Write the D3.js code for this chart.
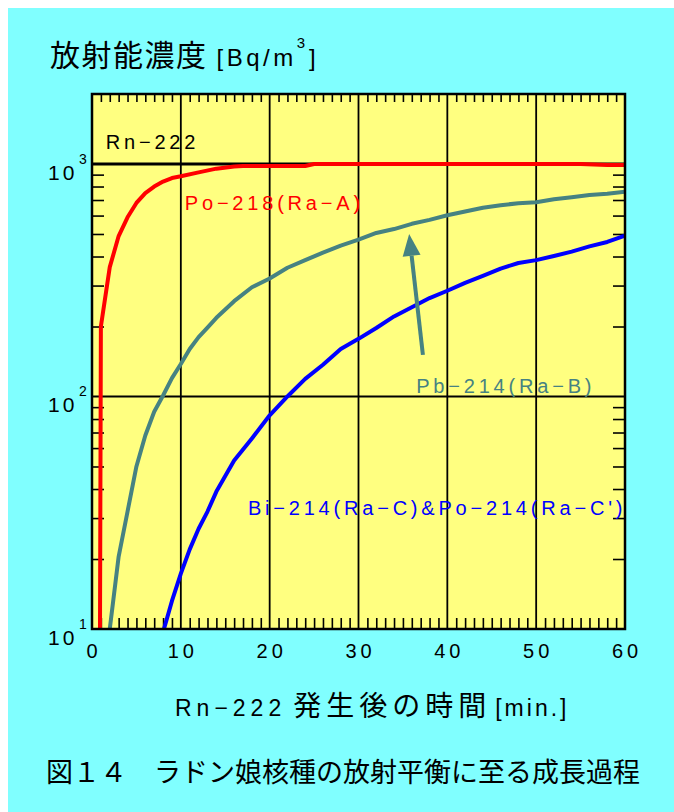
<!DOCTYPE html>
<html>
<head>
<meta charset="utf-8">
<script src="https://cdn.jsdelivr.net/npm/d3@7"></script>
<style>
  html, body { margin: 0; padding: 0; background: #fff; }
  svg { display: block; }
  .lat { font-family: "Liberation Sans", Arial, sans-serif; }
  .jp { font-family: "Noto Sans CJK JP", sans-serif; }
</style>
</head>
<body>
<div id="chart"></div>
<script>
// time after Rn-222 generation [min] and activity [Bq/m3]
const rnT = [0, 60];
const rnV = [1000, 1000];

const poT = [0.9, 1, 2, 3, 4, 5, 6, 7, 8, 9, 10, 12, 14, 16, 17, 20, 24, 25, 30, 40, 50, 55, 58, 60];
const poV = [10, 200, 360, 490, 590, 680, 750, 800, 840, 870, 885, 920, 955, 975, 980, 980, 980, 1000, 1000, 1000, 1000, 1000, 990, 990];

const pbT = [2, 3, 4, 5, 6, 7, 8, 9, 10, 11, 12, 13, 14, 16, 18, 20, 22, 24, 26, 28, 30, 32, 34, 36, 38, 40, 42, 44, 46, 48, 50, 52, 54, 56, 58, 60];
const pbV = [10, 20.5, 32, 50, 68, 86, 101, 120, 138, 160, 180, 198, 218, 257, 295, 322, 358, 386, 416, 446, 473, 505, 525, 553, 575, 602, 625, 648, 665, 678, 684, 705, 720, 735, 745, 760];

const biT = [8.1, 9, 10, 11, 12, 13, 14, 16, 18, 20, 22, 24, 26, 28, 30, 32, 34, 36, 38, 40, 42, 44, 46, 48, 50, 52, 54, 56, 58, 60];
const biV = [10, 13.2, 17.3, 22, 27, 32, 39, 53, 66, 83, 100, 119, 137, 160, 177, 197, 221, 242, 265, 285, 308, 330, 355, 375, 386, 402, 420, 442, 462, 492];

const xTicks = [0, 10, 20, 30, 40, 50, 60];
const yDecades = [10, 100, 1000];
const yExponents = ["1", "2", "3"];

const series = [
  { name: "Rn−222", t: rnT, v: rnV, color: "#000000", width: 3 },
  { name: "Po−218(Ra−A)", t: poT, v: poV, color: "#ff0000", width: 4 },
  { name: "Pb−214(Ra−B)", t: pbT, v: pbV, color: "#468282", width: 4 },
  { name: "Bi−214(Ra−C)&Po−214(Ra−C')", t: biT, v: biV, color: "#0000ff", width: 4 }
];

const W = 674, H = 812;
const plotL = 92, plotR = 625, plotT = 94, plotB = 629;

const svg = d3.select("#chart").append("svg")
  .attr("width", W)
  .attr("height", H);

// cyan panel
svg.append("rect")
  .attr("x", 8).attr("y", 8)
  .attr("width", W - 8).attr("height", H - 8)
  .attr("fill", "#80ffff");

const x = d3.scaleLinear().domain([0, 60]).range([plotL, plotR]);
const y = d3.scaleLog().domain([10, 2000]).range([plotB, plotT]);

// plot background
svg.append("rect")
  .attr("x", plotL).attr("y", plotT)
  .attr("width", plotR - plotL).attr("height", plotB - plotT)
  .attr("fill", "#ffff80");

svg.append("clipPath").attr("id", "plotclip")
  .append("rect")
  .attr("x", plotL).attr("y", plotT)
  .attr("width", plotR - plotL).attr("height", plotB - plotT);

// grid
const grid = svg.append("g").attr("stroke", "#000").attr("stroke-width", 1.8);
grid.selectAll("line.v")
  .data(xTicks.slice(1, -1))
  .join("line")
  .attr("class", "v")
  .attr("x1", d => x(d)).attr("x2", d => x(d))
  .attr("y1", plotT).attr("y2", plotB);
grid.append("line")
  .attr("x1", plotL).attr("x2", plotR)
  .attr("y1", y(100)).attr("y2", y(100));

// minor ticks
const minutes = d3.range(1, 60).filter(d => d % 10 !== 0);
const yMinor = [20, 30, 40, 50, 60, 70, 80, 90, 200, 300, 400, 500, 600, 700, 800, 900];

function styleAxis(g) {
  g.select(".domain").remove();
  g.selectAll(".tick line").attr("stroke", "#000").attr("stroke-width", 1.6);
  g.selectAll(".tick text").remove();
}

svg.append("g")
  .attr("transform", `translate(0,${plotB})`)
  .call(d3.axisBottom(x).tickValues(minutes).tickSize(-11).tickFormat(""))
  .call(styleAxis);

svg.append("g")
  .attr("transform", `translate(0,${plotT})`)
  .call(d3.axisTop(x).tickValues(minutes).tickSize(-8).tickFormat(""))
  .call(styleAxis);

svg.append("g")
  .attr("transform", `translate(${plotL},0)`)
  .call(d3.axisLeft(y).tickValues(yMinor).tickSize(-12).tickFormat(""))
  .call(styleAxis);

svg.append("g")
  .attr("transform", `translate(${plotR},0)`)
  .call(d3.axisRight(y).tickValues(yMinor).tickSize(-12).tickFormat(""))
  .call(styleAxis);

// curves
const line = d3.line()
  .x(d => x(d[0]))
  .y(d => y(d[1]));

const curves = svg.append("g").attr("clip-path", "url(#plotclip)");
series.forEach(s => {
  curves.append("path")
    .datum(s.t.map((t, i) => [t, s.v[i]]))
    .attr("fill", "none")
    .attr("stroke", s.color)
    .attr("stroke-width", s.width)
    .attr("stroke-linejoin", "round")
    .attr("d", line);
});

// frame
svg.append("rect")
  .attr("x", plotL).attr("y", plotT)
  .attr("width", plotR - plotL).attr("height", plotB - plotT)
  .attr("fill", "none")
  .attr("stroke", "#000")
  .attr("stroke-width", 2.5);

// x tick labels
svg.append("g").selectAll("text")
  .data(xTicks)
  .join("text")
  .attr("class", "lat")
  .attr("x", d => x(d) + 2)
  .attr("y", 658)
  .attr("text-anchor", "middle")
  .attr("font-size", 20)
  .attr("letter-spacing", 4)
  .attr("fill", "#000")
  .text(d => d);

// y tick labels 10^n
const yl = svg.append("g").selectAll("g")
  .data(yDecades)
  .join("g")
  .attr("transform", d => `translate(0,${y(d)})`);
yl.append("text")
  .attr("class", "lat")
  .attr("x", 48).attr("y", 16)
  .attr("font-size", 21)
  .attr("letter-spacing", 3)
  .text("10");
yl.append("text")
  .attr("class", "lat")
  .attr("x", 79).attr("y", 0)
  .attr("font-size", 14)
  .text((d, i) => yExponents[i]);

// series labels
const labels = [
  { text: series[0].name, t: 1.55, v: 1160, color: series[0].color },
  { text: series[1].name, t: 10.45, v: 635, color: series[1].color },
  { text: series[2].name, t: 36.5, v: 104, color: series[2].color },
  { text: series[3].name, t: 17.55, v: 31, color: series[3].color }
];
svg.append("g").selectAll("text")
  .data(labels)
  .join("text")
  .attr("class", "lat")
  .attr("x", d => x(d.t))
  .attr("y", d => y(d.v))
  .attr("font-size", 20)
  .attr("letter-spacing", 3.8)
  .attr("fill", d => d.color)
  .text(d => d.text);

// arrow pointing at Pb-214 curve
const arrowFrom = [37.25, 151];
const arrowTo = [35.7, 500];
const ax1 = x(arrowFrom[0]), ay1 = y(arrowFrom[1]);
const ax2 = x(arrowTo[0]), ay2 = y(arrowTo[1]);
const ang = Math.atan2(ay2 - ay1, ax2 - ax1);
const headLen = 22, headW = 9;
const bx = ax2 - headLen * Math.cos(ang), by = ay2 - headLen * Math.sin(ang);
svg.append("line")
  .attr("x1", ax1).attr("y1", ay1)
  .attr("x2", bx).attr("y2", by)
  .attr("stroke", "#468282")
  .attr("stroke-width", 4);
svg.append("path")
  .attr("d", `M${ax2},${ay2}L${bx + headW * Math.sin(ang)},${by - headW * Math.cos(ang)}L${bx - headW * Math.sin(ang)},${by + headW * Math.cos(ang)}Z`)
  .attr("fill", "#468282");

// title
const title = svg.append("text").attr("x", 50).attr("y", 66).attr("fill", "#000");
title.append("tspan").attr("class", "jp").attr("font-size", 30).attr("letter-spacing", 1.5).text("放射能濃度");
title.append("tspan").attr("class", "lat").attr("font-size", 24).attr("letter-spacing", 3.5).attr("dx", 9).text("[Bq/m");
title.append("tspan").attr("class", "lat").attr("font-size", 15).attr("dy", -18).text("3");
title.append("tspan").attr("class", "lat").attr("font-size", 24).attr("dy", 18).attr("dx", 4).text("]");

// x axis title
const xt = svg.append("text").attr("x", 175).attr("y", 716).attr("fill", "#000");
xt.append("tspan").attr("class", "lat").attr("font-size", 23).attr("letter-spacing", 5).text("Rn−222");
xt.append("tspan").attr("class", "jp").attr("font-size", 28).attr("letter-spacing", 5).attr("dx", 7).text("発生後の時間");
xt.append("tspan").attr("class", "lat").attr("font-size", 23).attr("letter-spacing", 3).attr("dx", 4).text("[min.]");

// caption
svg.append("text")
  .attr("class", "jp")
  .attr("x", 46).attr("y", 782)
  .attr("font-size", 27)
  .attr("fill", "#000")
  .text("図１４　ラドン娘核種の放射平衡に至る成長過程");
</script>
</body>
</html>
